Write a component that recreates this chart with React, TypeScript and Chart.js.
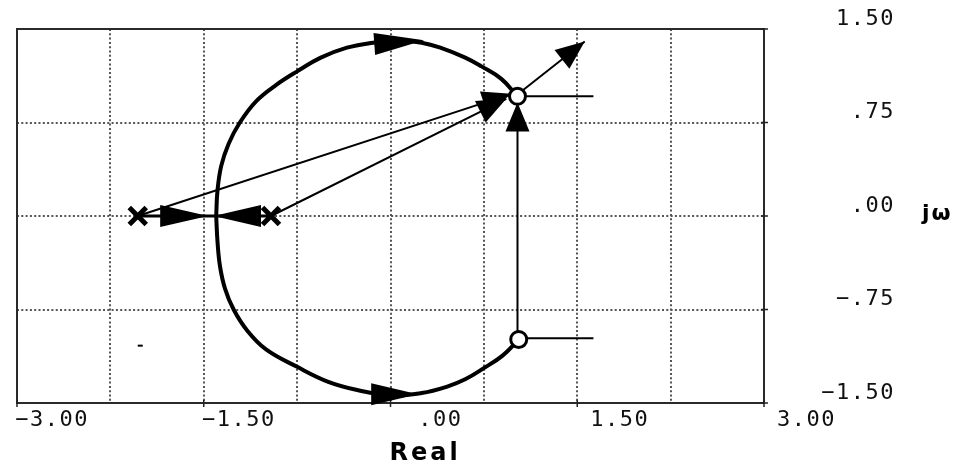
import React, { useEffect, useRef } from 'react';
import { Chart, registerables } from 'chart.js';

Chart.register(...registerables);

// ---- tick labels ----
const xTickValues = [-3, -1.5, 0, 1.5, 3];
const xTickLabels = ['−3.00', '−1.50', '.00', '1.50', '3.00'];
const yTickValues = [1.5, 0.75, 0, -0.75, -1.5];
const yTickLabels = ['1.50', '.75', '.00', '−.75', '−1.50'];
const xAxisTitle = 'Real';
const yAxisTitle = 'jω';

// ---- poles and zeros ----
const poles = [
  { x: -2.03, y: 0 },
  { x: -0.96, y: 0 },
];
const zeros = [
  { x: 1.02, y: 0.96 },
  { x: 1.03, y: -0.99 },
];

// ---- root locus branches ----
const realAxisLocus = [
  { x: -2.03, y: 0 },
  { x: -0.96, y: 0 },
];
const upperBranch = [
  { x: -1.4, y: 0 },
  { x: -1.39, y: 0.2 },
  { x: -1.36, y: 0.4 },
  { x: -1.3, y: 0.58 },
  { x: -1.21, y: 0.75 },
  { x: -1.08, y: 0.92 },
  { x: -0.92, y: 1.05 },
  { x: -0.75, y: 1.16 },
  { x: -0.56, y: 1.27 },
  { x: -0.35, y: 1.35 },
  { x: -0.14, y: 1.39 },
  { x: 0.05, y: 1.41 },
  { x: 0.25, y: 1.39 },
  { x: 0.4, y: 1.35 },
  { x: 0.6, y: 1.27 },
  { x: 0.73, y: 1.2 },
  { x: 0.89, y: 1.1 },
  { x: 1.02, y: 0.96 },
];
const lowerBranch = [
  { x: -1.4, y: 0 },
  { x: -1.39, y: -0.2 },
  { x: -1.37, y: -0.4 },
  { x: -1.33, y: -0.58 },
  { x: -1.26, y: -0.75 },
  { x: -1.15, y: -0.92 },
  { x: -1.0, y: -1.07 },
  { x: -0.75, y: -1.21 },
  { x: -0.5, y: -1.33 },
  { x: -0.25, y: -1.4 },
  { x: 0.0, y: -1.44 },
  { x: 0.25, y: -1.42 },
  { x: 0.45, y: -1.37 },
  { x: 0.6, y: -1.31 },
  { x: 0.75, y: -1.22 },
  { x: 0.9, y: -1.12 },
  { x: 1.03, y: -0.99 },
];

// ---- construction vectors ----
const poleVector1 = [
  { x: -2.03, y: 0 },
  { x: 0.97, y: 0.98 },
];
const poleVector2 = [
  { x: -0.96, y: 0 },
  { x: 0.93, y: 0.94 },
];
const zeroVector = [
  { x: 1.02, y: -0.99 },
  { x: 1.02, y: 0.91 },
];
const departureVector = [
  { x: 1.04, y: 0.99 },
  { x: 1.56, y: 1.4 },
];
const upperReference = [
  { x: 1.02, y: 0.96 },
  { x: 1.63, y: 0.96 },
];
const lowerReference = [
  { x: 1.03, y: -0.98 },
  { x: 1.63, y: -0.98 },
];
const strayMark = [{ x: -2.01, y: -1.04 }];

// ---- direction arrows on the locus: [tail, tip] ----
const locusArrowTails = [
  { x: -0.13, y: 1.38 },
  { x: -0.155, y: -1.43 },
  { x: -1.85, y: 0 },
  { x: -1.04, y: 0 },
];
const locusArrowTips = [
  { x: 0.27, y: 1.41 },
  { x: 0.22, y: -1.43 },
  { x: -1.465, y: 0 },
  { x: -1.42, y: 0 },
];

const vectorsWithHeads = [poleVector1, poleVector2, zeroVector, departureVector];

const decorPlugin = {
  id: 'decor',
  afterDatasetsDraw(chart: any) {
    const { ctx, chartArea: a, scales } = chart;
    const xs = scales.x;
    const ys = scales.y;
    ctx.save();

    // frame
    ctx.strokeStyle = '#2a2a2a';
    ctx.lineWidth = 2;
    ctx.strokeRect(a.left, a.top, a.right - a.left, a.bottom - a.top);

    // small tick marks
    ctx.lineWidth = 1.5;
    ctx.strokeStyle = '#222';
    xTickValues.forEach((v) => {
      const px = xs.getPixelForValue(v);
      ctx.beginPath();
      ctx.moveTo(px, a.bottom - 3);
      ctx.lineTo(px, a.bottom + 4);
      ctx.stroke();
    });
    yTickValues.forEach((v) => {
      const py = ys.getPixelForValue(v);
      ctx.beginPath();
      ctx.moveTo(a.right - 3, py);
      ctx.lineTo(a.right + 4, py);
      ctx.stroke();
    });

    const head = (tx: number, ty: number, ux: number, uy: number, len: number, hw: number) => {
      const bx = tx - ux * len;
      const by = ty - uy * len;
      const nx = -uy;
      const ny = ux;
      ctx.beginPath();
      ctx.moveTo(tx, ty);
      ctx.lineTo(bx + nx * hw, by + ny * hw);
      ctx.lineTo(bx - nx * hw, by - ny * hw);
      ctx.closePath();
      ctx.fill();
    };
    ctx.fillStyle = '#000';

    // locus arrows
    locusArrowTips.forEach((tip, i) => {
      const tail = locusArrowTails[i];
      const tx = xs.getPixelForValue(tip.x);
      const ty = ys.getPixelForValue(tip.y);
      const fx = xs.getPixelForValue(tail.x);
      const fy = ys.getPixelForValue(tail.y);
      const dx = tx - fx;
      const dy = ty - fy;
      const L = Math.hypot(dx, dy);
      head(tx, ty, dx / L, dy / L, L, 11);
    });

    // vector arrowheads
    vectorsWithHeads.forEach((seg) => {
      const s = seg[0];
      const e = seg[seg.length - 1];
      const tx = xs.getPixelForValue(e.x);
      const ty = ys.getPixelForValue(e.y);
      const fx = xs.getPixelForValue(s.x);
      const fy = ys.getPixelForValue(s.y);
      const dx = tx - fx;
      const dy = ty - fy;
      const L = Math.hypot(dx, dy);
      head(tx, ty, dx / L, dy / L, 29, 12);
    });

    ctx.restore();
  },
  afterDraw(chart: any) {
    const { ctx, chartArea: a, scales } = chart;
    const xs = scales.x;
    const ys = scales.y;
    ctx.save();
    ctx.fillStyle = '#111';
    ctx.font = '22px "DejaVu Sans Mono"';
    try {
      (ctx as any).letterSpacing = '1.5px';
    } catch (e) {}
    ctx.textBaseline = 'middle';
    ctx.textAlign = 'right';
    xTickValues.forEach((v, i) => {
      const px = xs.getPixelForValue(v);
      ctx.fillText(xTickLabels[i], px + 72, a.bottom + 17);
    });
    yTickValues.forEach((v, i) => {
      const py = ys.getPixelForValue(v);
      ctx.fillText(yTickLabels[i], a.right + 131, py - 10);
    });

    ctx.textAlign = 'left';
    ctx.textBaseline = 'alphabetic';
    ctx.fillStyle = '#000';
    ctx.font = 'bold 24px "DejaVu Sans"';
    try {
      (ctx as any).letterSpacing = '3px';
    } catch (e) {}
    ctx.fillText(xAxisTitle, (a.left + a.right) / 2 - 1, a.bottom + 57);

    ctx.font = 'bold 22px "DejaVu Sans"';
    try {
      (ctx as any).letterSpacing = '2px';
    } catch (e) {}
    ctx.fillText(yAxisTitle, a.right + 158, ys.getPixelForValue(0) + 4);
    ctx.restore();
  },
};

const line = (data: { x: number; y: number }[], width: number, tension = 0) => ({
  data,
  showLine: true,
  borderColor: '#000',
  backgroundColor: '#000',
  borderWidth: width,
  pointRadius: 0,
  tension,
  fill: false,
});

export default function App() {
  const ref = useRef<HTMLCanvasElement | null>(null);

  useEffect(() => {
    if (!ref.current) return;
    const chart = new Chart(ref.current, {
      type: 'scatter',
      data: {
        datasets: [
          {
            data: poles,
            showLine: false,
            pointStyle: 'crossRot',
            pointRadius: 12,
            borderWidth: 5,
            borderColor: '#000',
            backgroundColor: '#000',
          } as any,
          {
            data: zeros,
            showLine: false,
            pointStyle: 'circle',
            pointRadius: 8,
            borderWidth: 3,
            borderColor: '#000',
            backgroundColor: '#fff',
          } as any,
          {
            data: strayMark,
            showLine: false,
            pointStyle: 'line',
            pointRadius: 2.5,
            borderWidth: 2,
            borderColor: '#000',
          } as any,
          line(upperBranch, 4, 0.4),
          line(lowerBranch, 4, 0.4),
          line(realAxisLocus, 3),
          line(poleVector1, 2),
          line(poleVector2, 2),
          line(zeroVector, 2),
          line(departureVector, 2),
          line(upperReference, 2),
          line(lowerReference, 2),
        ],
      },
      options: {
        animation: false,
        responsive: false,
        devicePixelRatio: 1,
        layout: { padding: { left: 15, top: 29, right: 196, bottom: 63 } },
        plugins: {
          legend: { display: false },
          tooltip: { enabled: false },
        },
        scales: {
          x: {
            type: 'linear',
            min: -3,
            max: 3,
            ticks: { stepSize: 0.75, display: false },
            grid: { color: '#555', lineWidth: 2, drawTicks: false },
            border: { display: false, dash: [2, 2.3] },
          },
          y: {
            type: 'linear',
            min: -1.5,
            max: 1.5,
            ticks: { stepSize: 0.75, display: false },
            grid: { color: '#555', lineWidth: 2, drawTicks: false },
            border: { display: false, dash: [2, 2.3] },
          },
        },
      } as any,
      plugins: [decorPlugin],
    });
    return () => chart.destroy();
  }, []);

  return (
    <div style={{ position: 'fixed', left: 0, top: 0, width: 960, height: 466, background: '#fff' }}>
      <canvas ref={ref} width={960} height={466} style={{ display: 'block' }} />
    </div>
  );
}
